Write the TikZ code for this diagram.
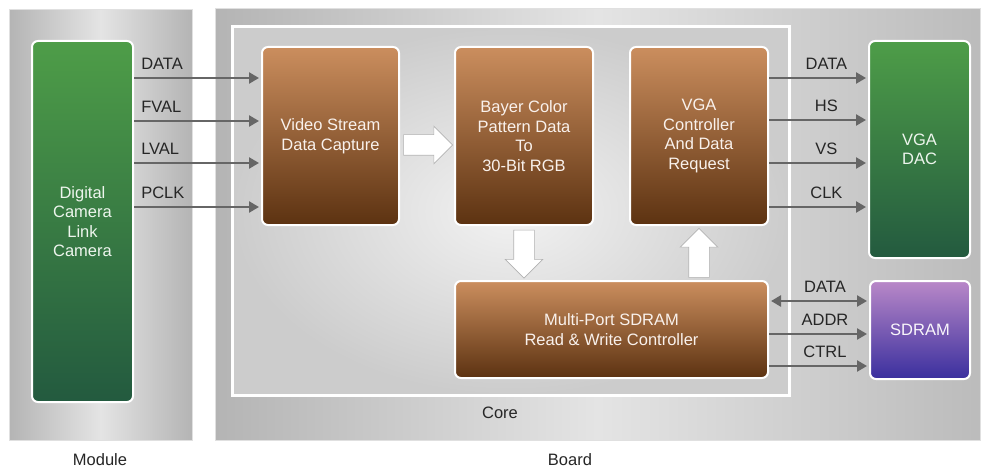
\documentclass[tikz,border=0pt]{standalone}
\usepackage{fontspec}
\setmainfont{Liberation Sans}
\usetikzlibrary{arrows.meta,shapes.arrows,calc}

\definecolor{brownTop}{HTML}{CB8E5E}
\definecolor{brownBot}{HTML}{5C3211}
\definecolor{greenTop}{HTML}{4E9D48}
\definecolor{greenBot}{HTML}{235A3F}
\definecolor{purpleTop}{HTML}{B988C8}
\definecolor{purpleBot}{HTML}{3A2F9E}
\definecolor{panelDark}{HTML}{B4B4B4}
\definecolor{panelLight}{HTML}{E4E4E4}
\definecolor{sigGray}{HTML}{666666}

\tikzset{
  block/.style={draw=white, line width=2pt, rounded corners=6pt, inner sep=0pt,
    align=center, font=\fontsize{16.5}{19.5}\selectfont},
  brownblock/.style={block, top color=brownTop, bottom color=brownBot, text=white!88!brownTop},
  greenblock/.style={block, top color=greenTop, bottom color=greenBot, text=white!90!greenTop},
  purpleblock/.style={block, top color=purpleTop, bottom color=purpleBot, text=white!92!purpleTop},
  fatarrow/.style={single arrow, draw=gray!60, fill=white, line width=.6pt, inner sep=10pt,
    single arrow head extend=8.5pt, single arrow tip angle=90},
  sig/.style={draw=sigGray, line width=2.5pt, shorten >=2pt, -{Triangle[length=10pt,width=11pt]}},
  siglabel/.style={font=\fontsize{16.5}{19.5}\selectfont, text=black!85, inner sep=2pt},
  panellabel/.style={font=\fontsize{16.5}{19.5}\selectfont, text=black!85}
}

\begin{document}
\begin{tikzpicture}[x=1pt, y=-1pt]
\useasboundingbox (0,0) rectangle (983,468);
\fill[white] (0,0) rectangle (983,468);
% panels
\shade[left color=panelDark, right color=panelDark, middle color=panelLight]
  (9,10) rectangle (192,440);
\draw[white!88!black, line width=1pt] (9,10) rectangle (192,440);
\shade[left color=panelDark, right color=panelDark!90, middle color=panelLight]
  (215,9) rectangle (980,440);
\draw[white!88!black, line width=1pt] (215,9) rectangle (980,440);
\shade[inner color=white!90!gray, outer color=gray!40] (232,27) rectangle (789,395);
\draw[white, line width=3pt] (232,27) rectangle (789,395);

% blocks
\node[greenblock, minimum width=101pt, minimum height=361pt] (cam) at (82.5,221.5)
  {Digital\\Camera\\Link\\Camera};
\node[brownblock, minimum width=137pt, minimum height=178pt] (vid) at (330.5,136)
  {Video Stream\\Data Capture};
\node[brownblock, minimum width=138pt, minimum height=178pt] (bay) at (524,136)
  {Bayer Color\\Pattern Data\\To\\30-Bit RGB};
\node[brownblock, minimum width=138pt, minimum height=178pt] (vga) at (699,136)
  {VGA\\Controller\\And Data\\Request};
\node[greenblock, minimum width=101pt, minimum height=217pt] (dac) at (919.5,149.5)
  {VGA\\DAC};
\node[brownblock, minimum width=313pt, minimum height=97pt] (ctl) at (611.5,329.5)
  {Multi-Port SDRAM\\Read \& Write Controller};
\node[purpleblock, minimum width=100pt, minimum height=98pt] (ram) at (920,330) {SDRAM};

% data flow arrows
\node[fatarrow, minimum height=49pt] (a1) at ($(vid.east)!.5!(bay.west)+(-4,9)$) {};
\node[fatarrow, minimum height=48pt, shape border rotate=270] (a2)
  at ($(bay.south)!.5!(ctl.north -| bay.south)+(0,-4)$) {};
\node[fatarrow, minimum height=49pt, shape border rotate=90] (a3)
  at ($(vga.south)!.5!(ctl.north -| vga.south)+(0,5)$) {};

% signals
\foreach \s/\y in {DATA/78, FVAL/121, LVAL/163, PCLK/207}
  \draw[sig] (cam.east |- 0,\y) -- node[siglabel, anchor=south west, pos=0,
    xshift=4pt, yshift=5pt] {\s} (vid.west |- 0,\y);
\foreach \s/\y in {DATA/78, HS/120, VS/163, CLK/207}
  \draw[sig] (vga.east |- 0,\y) -- node[siglabel, above=5pt, pos=.58] {\s}
    (dac.west |- 0,\y);
\draw[sig, shorten <=2pt, {Triangle[length=10pt,width=11pt]}-{Triangle[length=10pt,width=11pt]}]
  (ctl.east |- 0,301) -- node[siglabel, above=5pt, pos=.56] {DATA} (ram.west |- 0,301);
\foreach \s/\y in {ADDR/334, CTRL/366}
  \draw[sig] (ctl.east |- 0,\y) -- node[siglabel, above=5pt, pos=.56] {\s}
    (ram.west |- 0,\y);

% panel names
\node[panellabel] (corename) at (500,413) {Core};
\node[panellabel] (modname) at (100,460) {Module};
\node[panellabel] (boardname) at (570,460) {Board};
\end{tikzpicture}
\end{document}
